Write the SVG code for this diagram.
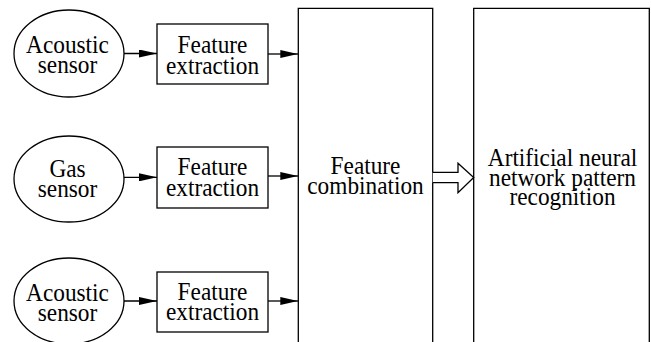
<svg xmlns="http://www.w3.org/2000/svg" width="651" height="342" viewBox="0 0 651 342">
<defs>
<style>
.s{fill:#fff;stroke:#000;stroke-width:1.3}
.t{font-family:"Liberation Serif","Times New Roman",serif;font-size:23.3px;fill:#000;text-anchor:middle}
.c{stroke:#000;stroke-width:1.3;fill:none}
</style>
<marker id="ah" viewBox="0 0 18 8" refX="18" refY="4" markerWidth="18" markerHeight="8" markerUnits="userSpaceOnUse" orient="auto">
<path d="M0,0 L18,4 L0,8 Z" fill="#000"/>
</marker>
</defs>
<rect width="651" height="342" fill="#fff"/>
<g id="combination">
<path class="s" d="M298.3,345 V8.3 H432.7 V345"/>
<text class="t" transform="translate(365.5,174) scale(1,1.1)"><tspan x="0" y="0">Feature</tspan><tspan x="0" y="18.4">combination</tspan></text>
</g>
<g id="ann">
<path class="s" d="M473.7,345 V8.3 H649.3 V345"/>
<text class="t" transform="translate(562.5,165.7) scale(1,1.1)"><tspan x="0" y="0">Artificial neural</tspan><tspan x="0" y="18.2">network pattern</tspan><tspan x="0" y="35.3">recognition</tspan></text>
</g>
<g id="sensor1">
<ellipse class="s" cx="69" cy="53.5" rx="55" ry="43.5"/>
<text class="t" transform="translate(67.5,53) scale(1,1.1)"><tspan x="0" y="0">Acoustic</tspan><tspan x="0" y="18.2">sensor</tspan></text>
</g>
<g id="sensor2">
<ellipse class="s" cx="69" cy="179" rx="55" ry="43"/>
<text class="t" transform="translate(67.5,176.7) scale(1,1.1)"><tspan x="0" y="0">Gas</tspan><tspan x="0" y="18.5">sensor</tspan></text>
</g>
<g id="sensor3">
<ellipse class="s" cx="69" cy="301" rx="55" ry="43"/>
<text class="t" transform="translate(67.5,301) scale(1,1.1)"><tspan x="0" y="0">Acoustic</tspan><tspan x="0" y="17.9">sensor</tspan></text>
</g>
<g id="fe1">
<rect class="s" x="157" y="24" width="111" height="60"/>
<text class="t" transform="translate(212.5,53.3) scale(1,1.1)"><tspan x="0" y="0">Feature</tspan><tspan x="0" y="18.8">extraction</tspan></text>
</g>
<g id="fe2">
<rect class="s" x="157" y="147" width="111" height="61"/>
<text class="t" transform="translate(212.5,175) scale(1,1.1)"><tspan x="0" y="0">Feature</tspan><tspan x="0" y="19">extraction</tspan></text>
</g>
<g id="fe3">
<rect class="s" x="157" y="272" width="111" height="60"/>
<text class="t" transform="translate(212.5,299.5) scale(1,1.1)"><tspan x="0" y="0">Feature</tspan><tspan x="0" y="18.8">extraction</tspan></text>
</g>
<g id="connectors">
<line class="c" x1="124" y1="53.5" x2="157" y2="53.5" marker-end="url(#ah)"/>
<line class="c" x1="268" y1="54" x2="298.3" y2="54" marker-end="url(#ah)"/>
<line class="c" x1="124" y1="177.3" x2="157" y2="177.3" marker-end="url(#ah)"/>
<line class="c" x1="268" y1="176" x2="298.3" y2="176" marker-end="url(#ah)"/>
<line class="c" x1="124" y1="301" x2="157" y2="301" marker-end="url(#ah)"/>
<line class="c" x1="268" y1="301" x2="298.3" y2="301" marker-end="url(#ah)"/>
<path class="s" d="M432.7,172.3 H458 V163.3 L473.7,177.5 L458,192.7 V182.7 H432.7"/>
</g>
</svg>
